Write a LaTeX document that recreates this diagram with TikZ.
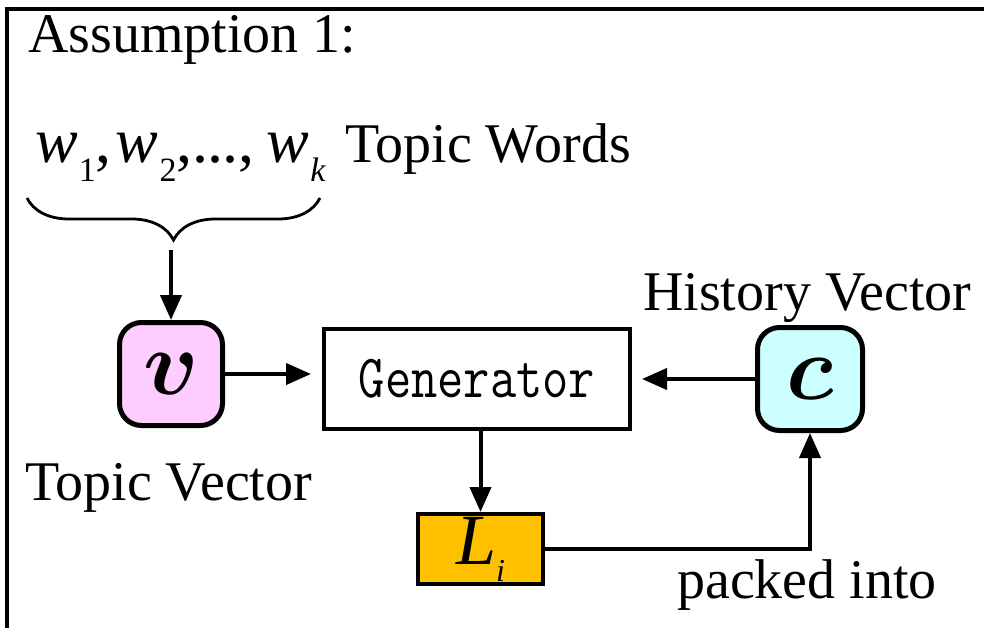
\documentclass[tikz,border=0pt]{standalone}
\usepackage{fix-cm}
\usepackage{amsmath}
\usepackage{bm}
\usepackage{fontspec}
\setmainfont{Liberation Serif}
\newfontfamily\tnr{Liberation Serif}
\usetikzlibrary{arrows.meta,decorations.pathreplacing}

% italic w with a lowered subscript
\newcommand\wsb[1]{\textit{w}\kern1pt\raisebox{-19pt}{\fontsize{34}{34}\selectfont #1}}

\begin{document}
\begin{tikzpicture}[x=1pt,y=-1pt,
  frame/.style={line width=4.5pt},
  box/.style={draw, line width=4pt, inner sep=0pt},
  vecbox/.style={box, line width=5pt, rounded corners=22pt,
    minimum width=103pt, minimum height=103pt},
  lbl/.style={anchor=base west, inner sep=0pt, font=\tnr\fontsize{56}{56}\selectfont},
  arr/.style={line width=4pt, -{Triangle[length=25pt,width=21pt]}},
]
\useasboundingbox (0,0) rectangle (984,628);

% outer frame (only top and left edges fall inside the page)
\draw[frame] (7,660) -- (7,9) -- (1010,9);

% titles and labels
\node[lbl] (title) at (28,53) {Assumption 1:};
\node[anchor=base west, inner sep=0pt, font=\tnr\fontsize{64}{64}\selectfont]
  (words) at (35,163)
  {\wsb{1},\kern4pt\wsb{2},.\kern-1pt.\kern-1pt.,\kern12pt\wsb{\itshape k}};
\node[lbl] (topicwords) at (345,163) {Topic Words};
\node[lbl] (hist) at (643,310) {History Vector};
\node[lbl] (topicvec) at (25,500) {Topic Vector};
\node[lbl] (packed) at (677,598) {packed into};

% boxes
\node[vecbox, fill={rgb,255:red,255;green,204;blue,255}] (v) at (171,374)
  {\fontsize{92}{92}\selectfont$\bm{v}$};
\node[box, minimum width=306pt, minimum height=100pt] (gen) at (477,379)
  {\fontsize{52}{52}\selectfont\ttfamily\scalebox{0.98}[1.18]{Generator}};
\node[vecbox, minimum width=105pt, fill={rgb,255:red,204;green,255;blue,255}] (c) at (810,379)
  {\fontsize{92}{92}\selectfont$\bm{c}$};
\node[box, minimum width=125pt, minimum height=70pt, fill={rgb,255:red,255;green,192;blue,0}] (L) at (480.5,549)
  {\tnr\fontsize{72}{72}\selectfont\textit{L}\raisebox{-17pt}{\fontsize{32}{32}\selectfont\textit{i}}};

% brace over the topic words
\draw[line width=2.8pt, decorate, decoration={brace, mirror, amplitude=42pt}]
  (27,198) -- (320,198);
\coordinate (tip) at (171,250);

% connectors
\draw[arr] (tip) -- (v.north);
\draw[arr, shorten >=11pt] (v.east) -- (v.east -| gen.west);
\draw[arr, shorten >=10pt] (c.west) -- (c.west -| gen.east);
\draw[arr] (L.north |- gen.south) -- (L.north);
\draw[arr] (L.east) -| (c.south);
\end{tikzpicture}
\end{document}
